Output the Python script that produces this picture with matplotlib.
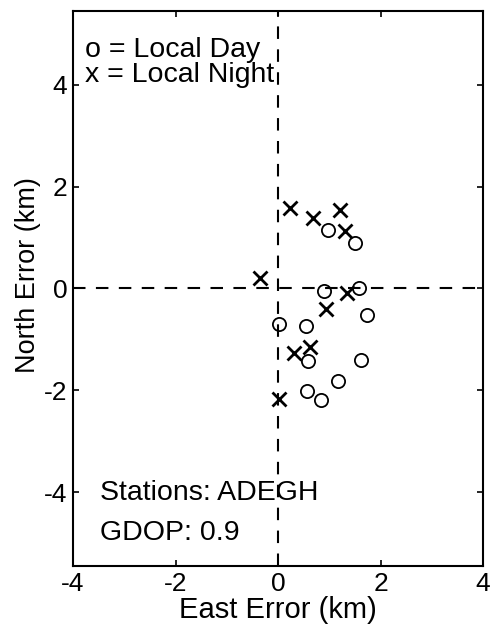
import matplotlib.pyplot as plt

plt.rcParams['font.family'] = ['Liberation Sans', 'DejaVu Sans']
plt.rcParams['axes.unicode_minus'] = False

# Local day positions (o)
day_east = [0.97, 1.50, 0.90, 1.58, 1.74, 0.02, 0.55, 0.59, 1.62, 1.17, 0.56, 0.84]
day_north = [1.14, 0.90, -0.06, 0.00, -0.53, -0.69, -0.74, -1.43, -1.40, -1.82, -2.02, -2.20]

# Local night positions (x)
night_east = [0.23, 0.68, 1.21, 1.31, -0.35, 1.35, 0.94, 0.62, 0.31, 0.02]
night_north = [1.57, 1.39, 1.53, 1.12, 0.20, -0.08, -0.41, -1.15, -1.27, -2.18]

ticks = [-4, -2, 0, 2, 4]

fig = plt.figure(figsize=(4.93, 6.36), dpi=100)
ax = fig.add_axes([0.148, 0.110, 0.832, 0.873])

ax.axhline(0, color='black', lw=1.5, ls=(0, (6, 5)), zorder=1)
ax.axvline(0, color='black', lw=1.5, ls=(0, (6, 5)), zorder=1)

ax.plot(day_east, day_north, 'o', ms=9.5, mfc='none', mec='black', mew=1.3)
ax.plot(night_east, night_north, 'x', ms=9.5, color='black', mew=2.0)

ax.set_xlim(-4, 4)
ax.set_ylim(-5.45, 5.45)
ax.set_xticks(ticks)
ax.set_yticks(ticks)
ax.tick_params(direction='in', length=4, width=1.2, labelsize=19,
               top=True, right=True, pad=4)
for s in ax.spines.values():
    s.set_linewidth(1.5)

ax.set_xlabel('East Error (km)', fontsize=21, labelpad=0)
ax.set_ylabel('North Error (km)', fontsize=19.5)
ax.yaxis.set_label_coords(-0.078, 0.524)

ax.text(-3.77, 4.68, 'o = Local Day', fontsize=20.5, va='center')
ax.text(-3.77, 4.19, 'x = Local Night', fontsize=20.5, va='center')
ax.text(-3.47, -4.02, 'Stations: ADEGH', fontsize=20.5, va='center')
ax.text(-3.47, -4.80, 'GDOP: 0.9', fontsize=20.5, va='center')

fig.savefig('out.png', dpi=100)
